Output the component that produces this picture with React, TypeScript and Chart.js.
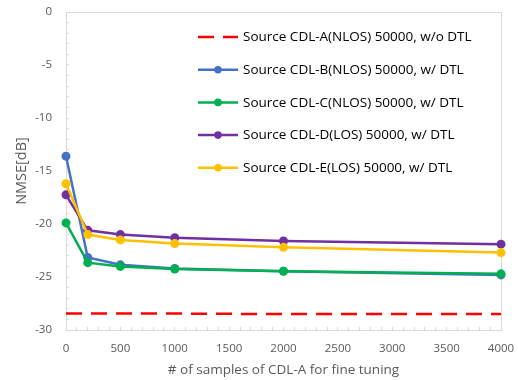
import React, { useEffect, useRef } from 'react';
import { Chart, registerables } from 'chart.js';

Chart.register(...registerables);

// ---- data ----
const sampleCounts = [0, 200, 500, 1000, 2000, 4000];
const cdlA = [-28.45, -28.45, -28.45, -28.45, -28.5, -28.5];
const cdlB = [-13.6, -23.15, -23.85, -24.2, -24.45, -24.8];
const cdlC = [-19.9, -23.65, -24.0, -24.25, -24.45, -24.7];
const cdlD = [-17.25, -20.6, -21.0, -21.3, -21.6, -21.9];
const cdlE = [-16.2, -21.0, -21.5, -21.85, -22.2, -22.7];

const seriesLabels = [
  'Source CDL-A(NLOS) 50000, w/o DTL',
  'Source CDL-B(NLOS) 50000, w/ DTL',
  'Source CDL-C(NLOS) 50000, w/ DTL',
  'Source CDL-D(LOS) 50000, w/ DTL',
  'Source CDL-E(LOS) 50000, w/ DTL',
];
const seriesColors = ['#FF0000', '#4472C4', '#00B050', '#7030A0', '#FFC000'];

const xMajorStep = 500;
const yMajorStep = 5;
const xTitle = '# of samples of CDL-A for fine tuning';
const yTitle = 'NMSE[dB]';

const FONT = '"Open Sans", "Noto Sans", sans-serif';
const AXIS_GRAY = '#d9d9d9';
const TEXT_GRAY = '#595959';

const toPoints = (vals: number[]) => sampleCounts.map((x, i) => ({ x, y: vals[i] }));

const framePlugin = {
  id: 'frame',
  beforeDatasetsDraw(chart: any) {
    const { ctx, chartArea } = chart;
    ctx.save();
    ctx.strokeStyle = AXIS_GRAY;
    ctx.lineWidth = 1;
    ctx.beginPath();
    ctx.moveTo(chartArea.left, Math.round(chartArea.top) + 0.5);
    ctx.lineTo(Math.round(chartArea.right) + 0.5, Math.round(chartArea.top) + 0.5);
    ctx.lineTo(Math.round(chartArea.right) + 0.5, chartArea.bottom);
    ctx.stroke();
    ctx.restore();
  },
};

const legendPlugin = {
  id: 'insideLegend',
  afterDraw(chart: any) {
    const { ctx, chartArea } = chart;
    const x0 = chartArea.left + 132;
    const x1 = x0 + 40;
    const textX = x1 + 5;
    const y0 = chartArea.top + 25;
    const dy = 32.7;
    chart.data.datasets.forEach((ds: any, i: number) => {
      const y = y0 + i * dy;
      ctx.save();
      ctx.strokeStyle = ds.borderColor;
      ctx.lineWidth = ds.borderWidth;
      ctx.setLineDash(ds.borderDash || []);
      ctx.beginPath();
      ctx.moveTo(x0, y);
      ctx.lineTo(x1, y);
      ctx.stroke();
      ctx.setLineDash([]);
      if (ds.pointRadius > 0) {
        ctx.fillStyle = ds.pointBackgroundColor;
        ctx.beginPath();
        ctx.arc((x0 + x1) / 2, y, 3.8, 0, Math.PI * 2);
        ctx.fill();
      }
      ctx.fillStyle = '#000000';
      ctx.font = `13.5px ${FONT}`;
      ctx.textBaseline = 'middle';
      ctx.textAlign = 'left';
      ctx.fillText(ds.label, textX, y + 0.5);
      ctx.restore();
    });
  },
};

export default function App() {
  const canvasRef = useRef<HTMLCanvasElement | null>(null);

  useEffect(() => {
    document.body.style.margin = '0';
    const canvas = canvasRef.current;
    if (!canvas) return;
    const allSeries = [cdlA, cdlB, cdlC, cdlD, cdlE];
    const datasets = allSeries.map((vals, i) => {
      const dashed = i === 0;
      return {
        label: seriesLabels[i],
        data: toPoints(vals),
        borderColor: seriesColors[i],
        backgroundColor: seriesColors[i],
        pointBackgroundColor: seriesColors[i],
        pointBorderColor: seriesColors[i],
        borderWidth: 2.5,
        borderDash: dashed ? [16, 9] : [],
        pointRadius: dashed ? 0 : 4.5,
        pointBorderWidth: 0,
        tension: 0,
        clip: false as any,
        order: allSeries.length - i,
      };
    });

    const chart = new Chart(canvas, {
      type: 'line',
      data: { datasets },
      plugins: [framePlugin, legendPlugin],
      options: {
        responsive: false,
        animation: false,
        devicePixelRatio: 1,
        layout: { padding: { top: 12, right: 17, left: 0, bottom: 0 } },
        plugins: {
          legend: { display: false },
          tooltip: { enabled: false },
        },
        scales: {
          x: {
            type: 'linear',
            min: 0,
            max: 4000,
            afterFit: (scale: any) => {
              scale.height = 50;
              scale.paddingLeft = 0;
              scale.paddingRight = 0;
            },
            ticks: {
              stepSize: 100,
              autoSkip: false,
              maxTicksLimit: 1000,
              maxRotation: 0,
              padding: 15,
              color: TEXT_GRAY,
              font: { family: FONT, size: 11.5 },
              callback: (v: any) => (Number(v) % xMajorStep === 0 ? String(v) : ''),
            },
            grid: {
              drawOnChartArea: false,
              drawTicks: true,
              tickLength: -3,
              color: AXIS_GRAY,
            },
            border: { display: true, color: AXIS_GRAY, width: 1 },
            title: {
              display: true,
              text: xTitle,
              color: TEXT_GRAY,
              font: { family: FONT, size: 13.5 },
              padding: { top: 0, bottom: 2 },
            },
          },
          y: {
            type: 'linear',
            min: -30,
            max: 0,
            afterFit: (scale: any) => {
              scale.width = 66;
              scale.paddingTop = 0;
              scale.paddingBottom = 0;
            },
            ticks: {
              stepSize: 1,
              autoSkip: false,
              maxTicksLimit: 1000,
              padding: 17,
              color: TEXT_GRAY,
              font: { family: FONT, size: 11.5 },
              callback: (v: any) => (Number(v) % yMajorStep === 0 ? String(v) : ''),
            },
            grid: {
              drawOnChartArea: false,
              drawTicks: true,
              tickLength: -3,
              color: AXIS_GRAY,
            },
            border: { display: true, color: AXIS_GRAY, width: 1 },
            title: {
              display: true,
              text: yTitle,
              color: TEXT_GRAY,
              font: { family: FONT, size: 14.5 },
              padding: { top: 13, bottom: 0 },
            },
          },
        },
      } as any,
    });
    return () => chart.destroy();
  }, []);

  return (
    <div style={{ width: 518, height: 380, position: 'relative' }}>
      <canvas ref={canvasRef} width={518} height={380} style={{ display: 'block' }} />
    </div>
  );
}
